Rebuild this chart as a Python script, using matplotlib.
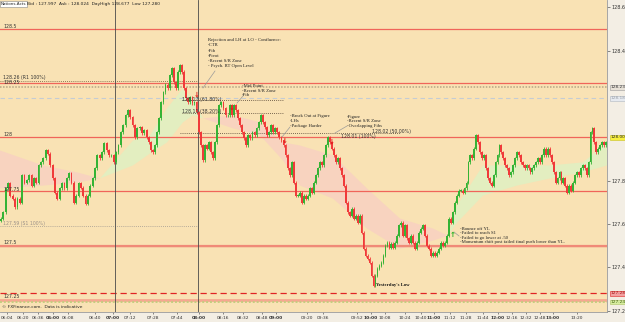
import numpy as np
import matplotlib
matplotlib.use("Agg")
import matplotlib.pyplot as plt
from matplotlib.lines import Line2D

# ---------------- data ----------------
# 1-minute-ish closes, four consecutive stretches
closes_a = [127.625, 127.653, 127.764, 127.787, 127.731, 127.717, 127.676, 127.717, 127.699, 127.824,
            127.791, 127.801, 127.824, 127.777, 127.810, 127.791, 127.870, 127.884, 127.902, 127.939,
            127.925, 127.870, 127.810, 127.745, 127.717, 127.764, 127.787, 127.764, 127.810, 127.833,
            127.791, 127.699, 127.731, 127.787, 127.768, 127.731, 127.694, 127.731, 127.777, 127.810,
            127.856, 127.916, 127.902, 127.930, 127.972, 127.939, 127.916, 127.916, 127.884, 127.930,
            127.962, 128.022, 128.055, 128.101, 128.124, 128.092, 128.055, 127.999, 128.041, 128.045,
            128.018, 128.032, 127.999, 127.976]
closes_b = [127.939, 127.930, 127.962, 128.022, 128.087, 128.161, 128.207, 128.240, 128.226, 128.286,
            128.318, 128.253, 128.226, 128.300, 128.332, 128.300, 128.226, 128.179, 128.161, 128.184,
            128.156, 128.161, 128.115, 128.022, 127.962, 127.893, 127.962, 127.948, 127.976, 127.930,
            127.902, 127.976, 128.055, 128.147, 128.161, 128.133, 128.101, 128.101, 128.147, 128.101,
            128.147, 128.124, 128.087, 128.055, 128.022, 127.995, 127.962, 128.009, 127.995, 128.022,
            128.009, 128.041, 128.069, 128.101, 128.069, 128.045, 128.009, 128.022, 128.055, 128.022,
            128.041, 128.022, 127.999, 127.985, 127.962, 127.916, 127.856, 127.824, 127.884, 127.791,
            127.731, 127.731]
closes_c = [127.745, 127.699, 127.731, 127.717, 127.731, 127.764, 127.745, 127.791, 127.824, 127.856,
            127.884, 127.870, 127.916, 127.962, 127.999, 127.976, 127.948, 127.916, 127.884, 127.902,
            127.856, 127.824, 127.777, 127.699, 127.653, 127.639, 127.671, 127.625, 127.639, 127.606,
            127.639, 127.560, 127.486, 127.454, 127.440, 127.422, 127.362, 127.315, 127.362, 127.394,
            127.408, 127.422, 127.454, 127.500, 127.514, 127.491, 127.509, 127.491, 127.514, 127.546,
            127.593, 127.606, 127.546, 127.593, 127.533, 127.514, 127.546, 127.514, 127.486, 127.514,
            127.560, 127.579, 127.593, 127.546, 127.500, 127.486, 127.454, 127.468, 127.454, 127.468,
            127.486, 127.514, 127.500, 127.514, 127.546, 127.625]
closes_d = [127.606, 127.653, 127.699, 127.731, 127.754, 127.754, 127.745, 127.764, 127.791, 127.884,
            127.916, 127.902, 127.948, 128.009, 127.976, 127.930, 127.902, 127.916, 127.856, 127.810,
            127.791, 127.777, 127.824, 127.884, 127.916, 127.962, 127.930, 127.902, 127.870, 127.856,
            127.824, 127.838, 127.870, 127.902, 127.930, 127.916, 127.884, 127.870, 127.856, 127.870,
            127.856, 127.838, 127.856, 127.870, 127.884, 127.902, 127.884, 127.916, 127.948, 127.916,
            127.948, 127.916, 127.884, 127.838, 127.791, 127.810, 127.838, 127.791, 127.810, 127.777,
            127.745, 127.777, 127.754, 127.791, 127.824, 127.838, 127.824, 127.856, 127.870, 127.856,
            127.824, 127.884, 128.022, 128.041, 127.976, 127.930, 127.948, 127.962, 127.976, 127.962,
            127.976]

# moving-average cloud (fast / slow), sampled along the chart
cloud_x = [0, 43, 77, 100, 133, 150, 167, 183, 193, 203, 233, 260, 283, 300, 333,
           367, 400, 433, 448, 457, 483, 517, 550, 583, 607]
ema_fast = [127.764, 127.777, 127.791, 127.810, 127.985, 128.009, 128.133, 128.226, 128.179, 128.087,
            128.041, 128.009, 127.893, 127.777, 127.717, 127.579, 127.486, 127.523, 127.546, 127.685,
            127.870, 127.870, 127.870, 127.884, 127.976]
ema_slow = [127.939, 127.870, 127.838, 127.810, 127.870, 127.925, 127.976, 128.069, 128.101, 128.087,
            128.101, 128.069, 127.976, 127.962, 127.916, 127.764, 127.625, 127.579, 127.546, 127.606,
            127.731, 127.777, 127.810, 127.838, 127.870]

round_levels = [128.5, 128.25, 128.0, 127.75, 127.5]
yesterday_low = 127.28
support_thick = 127.25
green_level = 127.24
level_r1 = 128.26
level_s1 = 127.59
level_pivot = 128.23
level_dash = 128.18
fib_618 = 128.17
fib_382 = 128.11
fib_100 = 128.02

time_labels = ["06:04", "06:20", "06:36", "06:00", "06:08", "06:40", "07:00", "07:12", "07:28", "07:44",
               "08:00", "08:16", "08:32", "08:48", "09:00", "09:20", "09:36", "09:52", "10:00", "10:08",
               "10:24", "10:40", "11:00", "11:12", "11:28", "11:44", "12:00", "12:16", "12:32", "12:48",
               "13:00", "13:20"]
time_bold = ["06:00", "07:00", "08:00", "09:00", "10:00", "11:00", "12:00", "13:00"]
right_ticks = [127.2, 127.4, 127.6, 127.8, 128.4, 128.6]

# ---------------- layout ----------------
W, H = 625, 322
BG = "#f9e2b4"
STRIP = "#f3eee4"
tick_px = [7, 23, 38, 53, 68, 95, 113, 130, 153, 177, 199, 223, 243, 262, 276, 307, 323, 357, 371, 385,
           405, 421, 434, 450, 466, 483, 498, 512, 526, 540, 553, 577]

fig = plt.figure(figsize=(W / 100, H / 100), dpi=100, facecolor=STRIP)
ax = fig.add_axes([0, 10 / H, 607 / W, 312 / H])
ax.set_facecolor(BG)
ax.set_xlim(0, 607)
ax.set_ylim(127.194, 128.633)


def fx(x):
    return x / W


def fy(y):
    return 1 - y / H


# cloud
f = np.array(ema_fast)
s = np.array(ema_slow)
ax.fill_between(cloud_x, f, s, where=f >= s, interpolate=True, color="#e3eec0", lw=0, zorder=1)
ax.fill_between(cloud_x, f, s, where=f <= s, interpolate=True, color="#f8d3bf", lw=0, zorder=1)

# horizontal levels
for lv in round_levels:
    ax.axhline(lv, color="#f0655a", lw=0.9, zorder=2)
ax.axhline(127.5, color="#f08a78", lw=1.6, zorder=2)
ax.axhline(support_thick, color="#f5a890", lw=2.0, zorder=2)
ax.axhline(yesterday_low, color="#e02424", lw=0.9, ls=(0, (5, 3)), zorder=2)
ax.axhline(green_level, color="#c5cc80", lw=1.4, ls=(0, (1, 1)), zorder=2)
ax.axhline(level_pivot, color="#b5a585", lw=1.1, ls=(0, (1, 1)), zorder=2)
ax.axhline(level_dash, color="#c4ccd4", lw=0.8, ls=(0, (4, 3)), zorder=2)
ax.hlines(level_r1, 0, 198, color="#705838", lw=0.6, ls=(0, (1, 1.5)), zorder=2)
ax.hlines(level_s1, 0, 198, color="#a09890", lw=0.6, ls=(0, (1, 1.5)), zorder=2)
ax.hlines(fib_618, 182, 283, color="#504030", lw=0.6, ls=(0, (1, 1.5)), zorder=2)
ax.hlines(fib_382, 182, 283, color="#504030", lw=0.6, ls=(0, (1, 1.5)), zorder=2)
ax.hlines(fib_100, 180, 400, color="#504030", lw=0.6, ls=(0, (1, 1.5)), zorder=2)

# vertical session lines
for vx in (115, 198):
    ax.axvline(vx, color="#4a4a4a", lw=0.6, zorder=2)

# candles
segments = [closes_a, closes_b, closes_c, closes_d]
spans = [(1, 149), (151, 298), (300, 449), (451, 606)]
xs = np.concatenate([np.linspace(a, b, len(sg)) for sg, (a, b) in zip(segments, spans)])
closes = np.concatenate([np.array(sg) for sg in segments])
opens = np.concatenate([[closes[0] - 0.01], closes[:-1]])
up = closes >= opens
cols = np.where(up, "#35b335", "#f03a3a")
lo = np.minimum(opens, closes)
hi = np.maximum(opens, closes)
ax.vlines(xs, lo - 0.008, hi + 0.008, colors=cols, lw=0.6, zorder=3)
ax.bar(xs, np.maximum(hi - lo, 0.003), bottom=lo, width=1.8, color=cols, lw=0, zorder=4)

# axes styling
for sp in ("top", "left"):
    ax.spines[sp].set_visible(False)
ax.spines["right"].set_color("#9a9a9a")
ax.spines["right"].set_linewidth(0.6)
ax.spines["bottom"].set_color("#9a9a9a")
ax.spines["bottom"].set_linewidth(0.6)
ax.yaxis.tick_right()
ax.set_yticks(right_ticks)
ax.set_yticklabels([f"{v:.1f}" for v in right_ticks])
ax.tick_params(axis="y", labelsize=3.5, length=2, width=0.4, pad=1.5, colors="#333333")
ax.set_xticks(tick_px)
ax.set_xticklabels(time_labels)
ax.tick_params(axis="x", labelsize=3.2, length=1.5, width=0.4, pad=1.5, colors="#333333")
for lbl in ax.get_xticklabels():
    if lbl.get_text() in time_bold:
        lbl.set_fontweight("bold")

# right axis price boxes
yt = ax.get_yaxis_transform()
boxes = [(level_pivot, "128.23", "#e8e2d8", "#999999", "#333333"),
         (level_dash, "128.18", "#e6eaf0", "#b0b8c0", "#9aa0a8"),
         (128.0, "128.00", "#f8f040", "#c8c020", "#222222"),
         (yesterday_low, "127.28", "#f2a0a0", "#e02424", "#a01010"),
         (green_level, "127.24", "#d8eea0", "#a8c060", "#406010")]
for p, t, fc, ec, tc in boxes:
    ax.text(1.006, p, t, transform=yt, fontsize=3.1, color=tc, va="center", ha="left",
            clip_on=False, bbox=dict(boxstyle="square,pad=0.1", fc=fc, ec=ec, lw=0.4))

# left level labels
lf = dict(fontsize=3.3, color="#333333", va="center", ha="left", family="DejaVu Sans")
fig.text(fx(3), fy(27), "128.5", **lf)
fig.text(fx(3), fy(78), "128.26 (R1 100%)", **lf)
fig.text(fx(3), fy(82.5), "128.25", **lf)
fig.text(fx(3), fy(134), "128", **lf)
fig.text(fx(3), fy(189), "127.75", **lf)
fig.text(fx(3), fy(224), "127.59 (S1 100%)", fontsize=3.3, color="#9a9088", va="center", ha="left")
fig.text(fx(3), fy(243), "127.5", **lf)
fig.text(fx(3), fy(296), "127.25", **lf)
fig.text(fx(182), fy(100), "128.17 (61.80%)", **lf)
fig.text(fx(182), fy(112), "128.11 (38.20%)", **lf)
fig.text(fx(341), fy(136.5), "128.01 (100%)", **lf)
fig.text(fx(372), fy(131.5), "128.02 (50.00%)", **lf)

# annotations
af = dict(fontsize=3.4, color="#222222", va="center", ha="left", family="Liberation Serif")
note1 = ["Rejection and LH at LO - Confluence:", "-CTR", "-Fib", "-Pivot", "-Recent S/R Zone",
         "- Psych. RT Open Level"]
for i, t in enumerate(note1):
    fig.text(fx(208), fy(40 + i * 5.3), t, **af)
note2 = ["-Mid Point", "-Recent S/R Zone", "-Fib"]
for i, t in enumerate(note2):
    fig.text(fx(242), fy(86 + i * 4.6), t, **af)
note3 = ["-Break Out at Figure", "-LHs", "-Package Harder"]
for i, t in enumerate(note3):
    fig.text(fx(290), fy(116 + i * 4.8), t, **af)
note4 = ["-Figure", "-Recent S/R Zone", "-Overlapping Fibs"]
for i, t in enumerate(note4):
    fig.text(fx(347), fy(117 + i * 4.4), t, **af)
note5 = ["-Bounce off YL", "-Failed to reach S1", "-Failed to go lower at .50",
         "-Momentum shift post failed final push lower than YL."]
for i, t in enumerate(note5):
    fig.text(fx(460), fy(229 + i * 4.5), t, **af)
fig.text(fx(376), fy(285), "Yesterday's Low", fontsize=3.4, color="#111111", va="center", ha="left",
         family="Liberation Serif", fontweight="bold")

for (x0, y0, x1, y1) in [(215, 71, 203, 88), (243, 96, 237, 103), (290, 127, 282, 137),
                         (347, 126, 335, 133), (459, 236, 454, 232)]:
    fig.add_artist(Line2D([fx(x0), fx(x1)], [fy(y0), fy(y1)], color="#9a9a9a", lw=0.5))

# signal arrows
for (x, y) in [(197, 95), (232, 108), (285, 141), (332, 142)]:
    fig.text(fx(x), fy(y), "\u2193", fontsize=5, color="#e01818", ha="center", va="center",
             fontweight="bold")
fig.text(fx(453), fy(235), "\u2191", fontsize=5, color="#20b020", ha="center", va="center",
         fontweight="bold")

# header bar
fig.text(fx(1), fy(4), "Nations.Acts", fontsize=3.0, color="#222222", va="center", ha="left",
         bbox=dict(boxstyle="square,pad=0.2", fc="#ffffff", ec="#888888", lw=0.4))
fig.text(fx(27), fy(4), "Bid : 127.997  Ask : 128.024  DayHigh 128.677  Low 127.280", fontsize=3.2,
         color="#222222", va="center", ha="left")
fig.text(fx(2), fy(307), "\u00a9 FXFinance.com.  Data is indicative", fontsize=3.2, color="#222222",
         va="center", ha="left")

fig.savefig("out.png", dpi=100, facecolor=fig.get_facecolor())
